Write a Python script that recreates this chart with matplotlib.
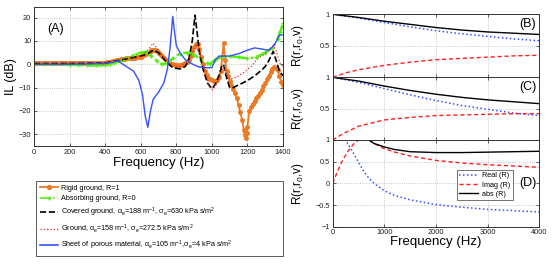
import matplotlib
matplotlib.use("Agg")
import matplotlib.pyplot as plt
from matplotlib.lines import Line2D
import numpy as np

plt.rcParams['font.family'] = ['Liberation Sans', 'DejaVu Sans']
plt.rcParams['mathtext.default'] = 'regular'

# ---------------- Panel A data ----------------
f_rigid = [0, 10, 20, 30, 40, 50, 60, 70, 80, 90, 100, 110, 120, 130, 140, 150, 160, 170, 180, 190,
           200, 210, 220, 230, 240, 250, 260, 270, 280, 290, 300, 310, 320, 330, 340, 350, 360, 370, 380, 390,
           400, 410, 420, 430, 440, 450, 460, 470, 480, 490, 500, 510, 520, 530, 540, 550, 560, 570, 580, 590,
           600, 610, 620, 630, 640, 650, 660, 670, 680, 690, 700, 710, 720, 730, 740, 750, 760, 770, 780, 790,
           800, 810, 820, 830, 840, 850, 860, 870, 880, 890, 900, 910, 920, 930, 940, 950, 960, 970, 980, 990,
           1000, 1010, 1020, 1030, 1040, 1050, 1058, 1066, 1074, 1083, 1092, 1100, 1110, 1120, 1130, 1140,
           1150, 1160, 1170, 1180, 1185, 1190, 1195, 1200, 1210, 1220, 1230, 1240, 1250, 1260, 1270, 1280,
           1290, 1300, 1310, 1320, 1330, 1340, 1350, 1360, 1370, 1380, 1390, 1400]
il_rigid = [0.5, 0.5, 0.5, 0.5, 0.5, 0.5, 0.5, 0.5, 0.5, 0.5, 0.5, 0.5, 0.5, 0.5, 0.5, 0.5, 0.5, 0.5, 0.5, 0.5,
            0.5, 0.5, 0.5, 0.5, 0.5, 0.5, 0.5, 0.5, 0.5, 0.5, 0.5, 0.6, 0.6, 0.6, 0.6, 0.6, 0.6, 0.6, 0.6, 0.7,
            0.7, 0.85, 1.0, 1.15, 1.3, 1.5, 1.7, 1.85, 2.0, 2.15, 2.3, 2.4, 2.5, 2.55, 2.6, 2.65, 2.7, 2.85, 3.0, 3.15,
            3.3, 3.5, 3.8, 4.2, 4.8, 5.4, 6.0, 6.3, 6.2, 5.7, 5.0, 4.3, 3.5, 2.7, 2.0, 1.4, 0.8, 0.3, 0.0, -0.2,
            -0.3, -0.35, -0.3, -0.2, 0.0, 0.4, 1.0, 2.0, 3.5, 5.5, 7.5, 8.5, 8.7, 6.5, 3.2, 0.0, -3.1, -4.7, -5.9, -6.3,
            -6.6, -7.0, -7.2, -6.8, -5.5, -3.0, 3.0, 9.0, 2.0, -3.0, -5.0, -7.0, -8.7, -10.5, -12.5, -14.5,
            -17.5, -20.5, -24.0, -28.0, -30.5, -31.5, -29.5, -27.0, -20.0, -18.5, -17.0, -15.8, -14.6, -13.5, -12.2, -11.0,
            -9.5, -8.0, -6.5, -5.0, -3.5, -2.0, -1.3, -1.5, -2.5, -5.0, -7.5, -9.0]

f_absorb = [0, 50, 100, 150, 200, 250, 300, 350, 400, 425, 450, 475, 500, 525, 550, 575, 600, 630, 660, 690,
            720, 750, 780, 820, 860, 900, 940, 970, 990, 1020, 1060, 1100, 1150, 1200, 1250, 1300, 1340, 1370,
            1385, 1400]
il_absorb = [0.0, 0.0, 0.0, -0.1, -0.2, -0.3, -0.5, -0.5, -0.5, 0.0, 0.5, 1.2, 2.0, 2.8, 3.5, 4.3, 5.0, 5.2,
             3.5, 1.5, 0.0, 0.5, 2.5, 4.5, 5.0, 4.0, 2.0, 0.5, 0.2, 2.0, 3.2, 3.5, 3.0, 2.5, 3.0, 5.0, 7.0, 11.0,
             14.0, 17.5]

f_covered = [0, 200, 400, 500, 600, 640, 670, 700, 740, 780, 820, 850, 870, 890, 905, 915, 930, 950, 975,
             1000, 1020, 1040, 1055, 1065, 1080, 1100, 1120, 1160, 1200, 1240, 1280, 1300, 1320, 1345,
             1360, 1380, 1400]
il_covered = [0.3, 0.3, 0.5, 2.0, 3.5, 4.5, 6.0, 5.0, 1.5, -1.5, -2.0, -1.0, 2.0, 10.0, 21.0, 15.0, 5.0, -2.0,
              -8.0, -10.5, -8.5, -5.0, -1.0, 0.0, -5.0, -10.0, -10.0, -8.5, -7.0, -5.0, -2.5, -1.0, 1.5, 5.5,
              2.0, -3.0, -5.0]

f_ground = [0, 400, 500, 600, 640, 670, 700, 740, 780, 820, 860, 890, 910, 930, 960, 990, 1005, 1030, 1050,
            1065, 1080, 1100, 1140, 1180, 1220, 1260, 1300, 1330, 1345, 1360, 1385, 1400]
il_ground = [0.2, 0.5, 2.0, 3.5, 6.0, 9.0, 6.0, 2.0, -0.5, -1.0, 1.0, 5.0, 8.5, 5.0, -3.0, -10.0, -11.0, -8.0,
             -4.0, -1.0, -4.0, -6.5, -5.5, -3.5, -1.0, 2.5, 4.5, 7.0, 8.0, 6.0, 0.0, -1.0]

f_sheet = [0, 200, 400, 450, 470, 490, 520, 560, 590, 610, 625, 640, 655, 670, 700, 730, 750, 765, 780, 790,
           800, 820, 850, 880, 920, 960, 1000, 1020, 1040, 1100, 1150, 1200, 1240, 1280, 1320, 1350, 1380, 1400]
il_sheet = [0.0, 0.0, 0.3, 1.0, 1.5, 0.5, -1.0, -3.0, -7.0, -13.0, -22.0, -27.0, -20.0, -15.0, -12.0, -8.0,
            -2.0, 7.0, 20.5, 14.0, 8.0, 5.0, 2.0, 0.5, -1.0, -1.5, -1.5, 2.0, 3.5, 3.5, 4.5, 6.0, 7.0, 6.5,
            6.0, 8.0, 12.5, 12.5]

labels_A = ["Rigid ground, R=1",
            "Absorbing ground, R=0",
            r"Covered ground, $\alpha_e$=188 m$^{-1}$, $\sigma_e$=630 kPa s/m$^2$",
            r"Ground, $\alpha_e$=158 m$^{-1}$, $\sigma_e$=272.5 kPa s/m$^2$",
            r"Sheet of porous material, $\alpha_e$=105 m$^{-1}$,$\sigma_e$=4 kPa s/m$^2$"]

# ---------------- Panels B, C, D data ----------------
f_B = [0, 250, 500, 1000, 1500, 2000, 2500, 3000, 3500, 4000]
real_B = [1.0, 0.97, 0.94, 0.87, 0.80, 0.74, 0.69, 0.65, 0.61, 0.58]
imag_B = [0.0, 0.07, 0.12, 0.19, 0.24, 0.28, 0.30, 0.32, 0.34, 0.35]
abs_B = [1.0, 0.975, 0.95, 0.89, 0.84, 0.79, 0.75, 0.72, 0.70, 0.68]

f_C = [0, 200, 500, 1000, 1500, 2000, 2500, 3000, 3500, 4000]
real_C = [1.0, 0.97, 0.92, 0.82, 0.72, 0.63, 0.55, 0.49, 0.43, 0.39]
imag_C = [0.0, 0.10, 0.22, 0.32, 0.36, 0.39, 0.40, 0.41, 0.42, 0.42]
abs_C = [1.0, 0.975, 0.94, 0.86, 0.79, 0.73, 0.68, 0.64, 0.61, 0.58]

f_D = [0, 100, 200, 250, 300, 400, 500, 600, 700, 800, 1000, 1200, 1500, 2000, 2500, 3000, 3500, 4000]
real_D = [1.6, 1.4, 1.15, 1.0, 0.9, 0.7, 0.48, 0.28, 0.12, 0.0, -0.17, -0.28, -0.38, -0.49, -0.55, -0.60, -0.63, -0.66]
imag_D = [0.0, 0.3, 0.55, 0.65, 0.75, 0.9, 1.0, 1.05, 1.0, 0.92, 0.8, 0.72, 0.63, 0.53, 0.47, 0.43, 0.40, 0.37]
abs_D = [1.6, 1.45, 1.27, 1.2, 1.17, 1.14, 1.11, 1.08, 1.0, 0.92, 0.84, 0.78, 0.73, 0.71, 0.71, 0.72, 0.73, 0.74]

labels_R = ["Real (R)", "Imag (R)", "abs (R)"]

# ---------------- figure ----------------
W, H = 552, 266
fig = plt.figure(figsize=(W / 100, H / 100), dpi=100)

def px_axes(x0, y0, x1, y1):
    return fig.add_axes([x0 / W, 1 - y1 / H, (x1 - x0) / W, (y1 - y0) / H])

def style(ax):
    for s in ax.spines.values():
        s.set_color('#333333')
        s.set_linewidth(0.7)
    ax.tick_params(direction='in', top=True, right=True, length=2.5, width=0.5,
                   labelsize=5.3, pad=2, colors='#222222')
    ax.grid(True, linestyle=':', color='#b8b8b8', linewidth=0.6)
    ax.set_axisbelow(True)

ORANGE = '#ea7a23'
GREEN = '#55ee11'
BLUE = '#3350ff'
RED = '#ff2020'

axA = px_axes(34, 7, 283, 146)
style(axA)
axA.plot(f_rigid, il_rigid, '-', color=ORANGE, lw=1.3, marker='o', ms=3.0, mfc=ORANGE, mec=ORANGE, mew=0.5)
axA.plot(f_absorb, il_absorb, '-.', color=GREEN, lw=1.8, marker='+', ms=3.5, mew=1.0)
axA.plot(f_covered, il_covered, '--', color='black', lw=1.2)
axA.plot(f_ground, il_ground, ':', color=RED, lw=0.9)
axA.plot(f_sheet, il_sheet, '-', color=BLUE, lw=1.0)
axA.set_xlim(0, 1400)
axA.set_ylim(-35, 24.5)
axA.set_xticks(range(0, 1401, 200))
axA.set_yticks([-30, -20, -10, 0, 10, 20])
axA.set_xlabel("Frequency (Hz)", fontsize=9.5, labelpad=1)
axA.set_ylabel("IL (dB)", fontsize=9, labelpad=1)
axA.text(0.055, 0.84, "(A)", transform=axA.transAxes, fontsize=9, va='center', ha='left')

# Legend for panel A
axL = px_axes(36, 181, 283, 257)
axL.axis('off')
handles = [Line2D([], [], color=ORANGE, lw=1.3, marker='o', ms=2.8, mfc=ORANGE, mec=ORANGE),
           Line2D([], [], color=GREEN, lw=1.2, ls='-.', marker='+', ms=3.5),
           Line2D([], [], color='black', lw=1.2, ls='--'),
           Line2D([], [], color=RED, lw=0.9, ls=':'),
           Line2D([], [], color=BLUE, lw=1.2)]
leg = axL.legend(handles, labels_A, loc='upper left', bbox_to_anchor=(0, 0, 1, 1), mode='expand',
                 fontsize=5.2, frameon=True, fancybox=False, handlelength=2.6, handletextpad=0.3,
                 labelspacing=0.5, borderpad=0.5, borderaxespad=0, markerscale=1.0, numpoints=1)
leg.get_frame().set_edgecolor('#333333')
leg.get_frame().set_linewidth(0.7)

# Right panels
axB = px_axes(332.7, 14.3, 539.3, 77.3)
axC = px_axes(332.7, 77.3, 539.3, 140)
axD = px_axes(332.7, 140, 539.3, 226.7)

panels = [(axB, f_B, real_B, imag_B, abs_B, "(B)"),
          (axC, f_C, real_C, imag_C, abs_C, "(C)"),
          (axD, f_D, real_D, imag_D, abs_D, "(D)")]
for ax, f, re_, im_, ab_, lab in panels:
    style(ax)
    ax.plot(f, re_, color=BLUE, ls=(0, (1, 1.6)), lw=1.1, label=labels_R[0])
    ax.plot(f, im_, color=RED, ls=(0, (3, 2)), lw=1.0, label=labels_R[1])
    ax.plot(f, ab_, color='black', ls='-', lw=1.0, label=labels_R[2])
    ax.set_xlim(0, 4000)
    ax.set_xticks([0, 1000, 2000, 3000, 4000])
    ax.set_ylabel("R(r,r$_0$,v)", fontsize=8.5, labelpad=2)

for ax in (axB, axC):
    ax.set_ylim(0, 1)
    ax.set_yticks([0, 0.5, 1])
    ax.set_yticklabels(['', '0.5', '1'])
    ax.tick_params(labelbottom=False)

axD.set_ylim(-1, 1)
axD.set_yticks([-1, -0.5, 0, 0.5, 1])
axD.set_yticklabels(['\u22121', '\u22120.5', '0', '0.5', '1'])
axD.set_xlabel("Frequency (Hz)", fontsize=9.5, labelpad=0)

axB.text(0.985, 0.84, "(B)", transform=axB.transAxes, fontsize=9, ha='right', va='center')
axC.text(0.985, 0.84, "(C)", transform=axC.transAxes, fontsize=9, ha='right', va='center')
axD.text(0.985, 0.50, "(D)", transform=axD.transAxes, fontsize=9, ha='right', va='center')

legD = axD.legend(loc='upper left', bbox_to_anchor=(0.60, 0.655), fontsize=5.2, frameon=True,
                  fancybox=False, handlelength=2.6, handletextpad=0.6, labelspacing=0.3,
                  borderpad=0.35, borderaxespad=0)
legD.get_frame().set_edgecolor('#333333')
legD.get_frame().set_linewidth(0.6)

for ax in (axB, axC, axD):
    ax.yaxis.set_label_coords(-0.13, 0.5)

fig.savefig("out.png", dpi=100)
